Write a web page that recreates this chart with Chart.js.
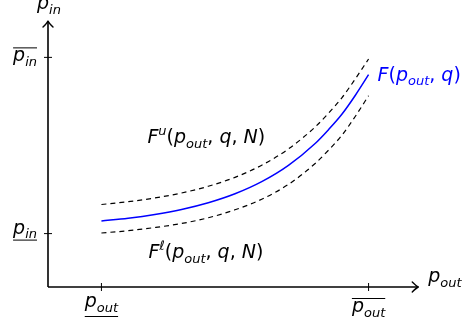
<!DOCTYPE html>
<html><head><meta charset="utf-8">
<script src="https://cdn.jsdelivr.net/npm/chart.js@4"></script>
<style>html,body{margin:0;padding:0;background:#fff}#wrap{width:464px;height:327px}</style>
</head><body><div id="wrap"><canvas id="c" width="464" height="327"></canvas></div>
<script>
// ---- data ----
const xValues      = [1, 1.5, 2, 2.5, 3, 3.5, 4, 4.5, 5, 5.25, 5.5, 5.75, 6];
const fValues      = [1.236, 1.288, 1.358, 1.451, 1.577, 1.745, 1.972, 2.277, 2.687, 2.946, 3.234, 3.586, 3.976];
const fUpperValues = [1.545, 1.597, 1.667, 1.760, 1.886, 2.054, 2.281, 2.586, 2.996, 3.255, 3.543, 3.895, 4.270];
const fLowerValues = [1.011, 1.054, 1.114, 1.189, 1.296, 1.446, 1.644, 1.921, 2.313, 2.562, 2.841, 3.193, 3.582];
const xTickValues  = [1, 6];
const xTickMarks   = ['under', 'over'];
const yTickValues  = [1, 4.3];
const yTickMarks   = ['under', 'over'];

const FONT = '"DejaVu Sans", sans-serif';
const MAIN = 19, SUB = 13;

function pts(ys){ return xValues.map((x,i)=>({x:x, y:ys[i]})); }

function runs(list){ // list of [text, size, dy, italic]
  return list.map(r=>({t:r[0], s:r[1], dy:r[2]||0, it:r[3]}));
}
function measure(ctx, rs){
  let w=0; rs.forEach(r=>{ ctx.font=(r.it?'italic ':'')+r.s+'px '+FONT; r.w=ctx.measureText(r.t).width; w+=r.w; });
  return w;
}
function drawRuns(ctx, rs, x, y, align, color){
  const w = measure(ctx, rs);
  let cx = align==='center' ? x-w/2 : align==='right' ? x-w : x;
  const x0 = cx;
  ctx.fillStyle=color||'#000'; ctx.textBaseline='alphabetic'; ctx.textAlign='left';
  rs.forEach(r=>{ ctx.font=(r.it?'italic ':'')+r.s+'px '+FONT; ctx.fillText(r.t, cx, y+r.dy); cx+=r.w; });
  return {x0:x0, x1:cx, w:w};
}
function pLabel(sub){ return runs([['p',MAIN,0,true],[sub,SUB,4.5,true]]); }
function fLabel(sup){
  const a=[['F',MAIN,0,true]];
  if(sup) a.push([sup,SUB,-8.5,true]);
  a.push(['(',MAIN,0,false],['p',MAIN,0,true],['out',SUB,4.5,true],[', ',MAIN,0,false],['q',MAIN,0,true]);
  if(sup) a.push([', ',MAIN,0,false],['N',MAIN,0,true]);
  a.push([')',MAIN,0,false]);
  return runs(a);
}

const axesPlugin = {
  id:'axesPlugin',
  afterDatasetsDraw(chart){
    const ctx=chart.ctx, xs=chart.scales.x, ys=chart.scales.y;
    const ox=xs.getPixelForValue(0), oy=ys.getPixelForValue(0);
    const xEnd=xs.getPixelForValue(6.93), yEnd=ys.getPixelForValue(4.98);
    ctx.save();
    ctx.strokeStyle='#000'; ctx.lineWidth=1.6; ctx.lineCap='butt';
    ctx.beginPath(); ctx.moveTo(ox,oy); ctx.lineTo(xEnd,oy); ctx.stroke();
    ctx.beginPath(); ctx.moveTo(ox,oy); ctx.lineTo(ox,yEnd); ctx.stroke();
    // arrow heads
    ctx.lineWidth=1.4; ctx.lineJoin='round'; ctx.lineCap='round';
    ctx.beginPath(); ctx.moveTo(xEnd-6,oy-5); ctx.quadraticCurveTo(xEnd-2,oy-1,xEnd,oy); ctx.quadraticCurveTo(xEnd-2,oy+1,xEnd-6,oy+5); ctx.stroke();
    ctx.beginPath(); ctx.moveTo(ox-5,yEnd+6); ctx.quadraticCurveTo(ox-1,yEnd+2,ox,yEnd); ctx.quadraticCurveTo(ox+1,yEnd+2,ox+5,yEnd+6); ctx.stroke();
    // ticks
    ctx.lineWidth=1; ctx.lineCap='butt';
    xTickValues.forEach((v,i)=>{
      const px=xs.getPixelForValue(v);
      ctx.beginPath(); ctx.moveTo(px,oy-4); ctx.lineTo(px,oy+4); ctx.stroke();
      const over = xTickMarks[i]==='over';
      const base = over ? oy+25 : oy+20;
      const r = drawRuns(ctx, pLabel('out'), px, base, 'center');
      ctx.beginPath();
      const ly = over ? base-13.5 : base+9.5;
      ctx.moveTo(r.x0,ly); ctx.lineTo(r.x1,ly); ctx.stroke();
    });
    yTickValues.forEach((v,i)=>{
      const py=ys.getPixelForValue(v);
      ctx.beginPath(); ctx.moveTo(ox-4,py); ctx.lineTo(ox+4,py); ctx.stroke();
      const over = yTickMarks[i]==='over';
      const base = over ? py+4 : py;
      const r = drawRuns(ctx, pLabel('in'), ox-11, base, 'right');
      ctx.beginPath();
      const ly = over ? base-13.5 : base+6.5;
      ctx.moveTo(r.x0,ly); ctx.lineTo(r.x1,ly); ctx.stroke();
    });
    // axis titles
    drawRuns(ctx, pLabel('in'), ox+1, yEnd-12, 'center');
    drawRuns(ctx, pLabel('out'), xEnd+10, oy-5, 'left');
    // curve labels
    const ex=xs.getPixelForValue(xValues[xValues.length-1]), ey=ys.getPixelForValue(fValues[fValues.length-1]);
    drawRuns(ctx, fLabel(null), ex+9, ey+6, 'left', '#0000ff');
    drawRuns(ctx, fLabel('u'), xs.getPixelForValue(1.86), ys.getPixelForValue(2.69), 'left');
    drawRuns(ctx, fLabel('\u2113'), xs.getPixelForValue(1.88), ys.getPixelForValue(0.54), 'left');
    ctx.restore();
  }
};

new Chart(document.getElementById('c'), {
  type:'line',
  data:{ datasets:[
    {label:'F^u', data:pts(fUpperValues), borderColor:'#000', borderWidth:1.2, borderDash:[5,4], pointRadius:0, cubicInterpolationMode:'monotone', fill:false},
    {label:'F^l', data:pts(fLowerValues), borderColor:'#000', borderWidth:1.2, borderDash:[5,4], pointRadius:0, cubicInterpolationMode:'monotone', fill:false},
    {label:'F', data:pts(fValues), borderColor:'#0000ff', borderWidth:1.5, pointRadius:0, cubicInterpolationMode:'monotone', fill:false}
  ]},
  options:{
    responsive:false, animation:false, devicePixelRatio:1,
    layout:{padding:{left:48, right:42, top:20, bottom:40}},
    plugins:{legend:{display:false}, tooltip:{enabled:false}},
    scales:{
      x:{type:'linear', min:0, max:7, display:false},
      y:{type:'linear', min:0, max:5, display:false}
    }
  },
  plugins:[axesPlugin]
});
</script></body></html>
